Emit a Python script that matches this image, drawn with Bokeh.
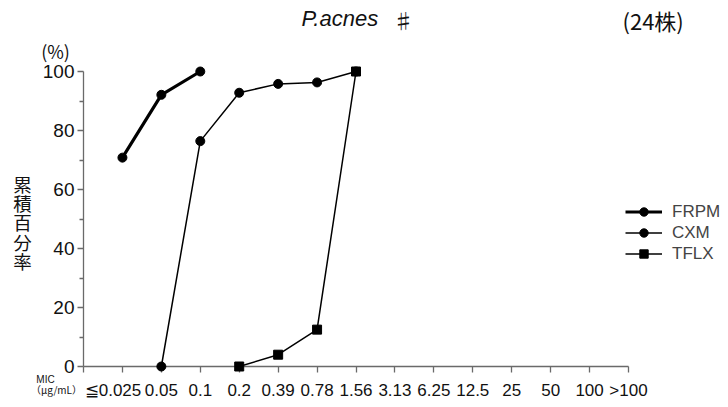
from bokeh.plotting import figure
from bokeh.models import (Range1d, FixedTicker, Label, Legend, LegendItem, ColumnDataSource)
from bokeh.embed import file_html
from bokeh.resources import INLINE

# ---------------- data ----------------
mic_labels = ["≦0.025", "0.05", "0.1", "0.2", "0.39", "0.78", "1.56", "3.13",
              "6.25", "12.5", "25", "50", "100", ">100"]

frpm_mic = ["≦0.025", "0.05", "0.1"]
frpm_pct = [70.8, 92.1, 100.0]

cxm_mic = ["0.05", "0.1", "0.2", "0.39", "0.78", "1.56"]
cxm_pct = [0.0, 76.4, 92.8, 95.8, 96.3, 100.0]

tflx_mic = ["0.2", "0.39", "0.78", "1.56"]
tflx_pct = [0.0, 4.0, 12.5, 100.0]

y_major = [0, 20, 40, 60, 80, 100]
y_minor = [10, 30, 50, 70, 90]

title_species = "P.acnes"
title_mark = "♯"
title_count = "(24株)"
y_title = "累積百分率"
legend_names = ["FRPM", "CXM", "TFLX"]

# ---------------- layout geometry (pixels) ----------------
W, H = 728, 407
AX_L, AX_R = 83, 628      # x pixels of category 0 and last category
AX_T, AX_B = 71, 366      # y pixels of 100 % and 0 %
ncat = len(mic_labels)
ppx = (AX_R - AX_L) / ncat
ppy = (AX_B - AX_T) / 100.0
x0 = -AX_L / ppx
x1 = ncat + (W - AX_R) / ppx
y1 = 100 + AX_T / ppy
y0 = -(H - AX_B) / ppy

pos = {lab: i + 1 for i, lab in enumerate(mic_labels)}
p = figure(width=W, height=H, output_backend="svg", toolbar_location=None,
           x_range=Range1d(x0, x1), y_range=Range1d(y0, y1),
           min_border=0, min_border_left=0, min_border_right=0,
           min_border_top=0, min_border_bottom=0, outline_line_color=None)
p.grid.visible = False
p.background_fill_color = "white"
p.border_fill_color = "white"

font = "Liberation Sans"
cjk = "Noto Sans CJK JP"
axis_col = "#6a6a6a"

# x axis
xa = p.xaxis[0]
xa.fixed_location = 0
xa.bounds = (0, ncat)
xa.ticker = FixedTicker(ticks=list(range(0, ncat + 1)), minor_ticks=[])
overrides = {0: ""}
for lab, x in pos.items():
    overrides[x] = lab
overrides[1] = mic_labels[0] + "\u00a0\u00a0\u00a0\u00a0"
xa.major_label_overrides = overrides
xa.major_label_text_font = font
xa.major_label_text_font_size = "17px"
xa.major_label_text_color = "#111111"
xa.major_label_standoff = 8
xa.major_tick_out = 6
xa.major_tick_in = 0
xa.axis_line_color = axis_col
xa.major_tick_line_color = axis_col
xa.axis_line_width = 1.3
xa.major_tick_line_width = 1.3

# y axis
ya = p.yaxis[0]
ya.fixed_location = 0
ya.bounds = (0, 100)
ya.ticker = FixedTicker(ticks=y_major, minor_ticks=y_minor)
ya.major_label_text_font = font
ya.major_label_text_font_size = "19px"
ya.major_label_text_color = "#111111"
ya.major_label_standoff = 3
ya.major_tick_out = 6
ya.major_tick_in = 0
ya.minor_tick_out = 4
ya.minor_tick_in = 0
ya.axis_line_color = axis_col
ya.major_tick_line_color = axis_col
ya.minor_tick_line_color = axis_col
ya.axis_line_width = 1.3
ya.major_tick_line_width = 1.3
ya.minor_tick_line_width = 1.3

# ---------------- series ----------------
def series(mics, pcts, lw, marker):
    src = ColumnDataSource(dict(x=[pos[m] for m in mics], y=pcts))
    ln = p.line("x", "y", source=src, line_color="black", line_width=lw,
                level="overlay")
    sc = p.scatter("x", "y", source=src, marker=marker, size=9,
                   fill_color="black", line_color="black", level="overlay")
    return [ln, sc]

r_frpm = series(frpm_mic, frpm_pct, 3.2, "circle")
r_cxm = series(cxm_mic, cxm_pct, 1.5, "circle")
r_tflx = series(tflx_mic, tflx_pct, 1.5, "square")

legend = Legend(items=[LegendItem(label=legend_names[0], renderers=r_frpm),
                       LegendItem(label=legend_names[1], renderers=r_cxm),
                       LegendItem(label=legend_names[2], renderers=r_tflx)],
                location=(625, H - 264), padding=0, spacing=0, margin=0,
                glyph_width=37, glyph_height=21, label_height=21,
                label_standoff=10, label_text_font=font,
                label_text_font_size="17px", border_line_color=None,
                background_fill_alpha=0)
p.add_layout(legend)

# ---------------- texts ----------------
def lab(text, cx, cy, size, fnt=font, style="normal", align="center", base="middle"):
    p.add_layout(Label(x=cx, y=H - cy, x_units="screen", y_units="screen",
                       text=text, text_font=fnt, text_font_size=size,
                       text_font_style=style, text_align=align, text_baseline=base,
                       text_color="#111111"))

lab(title_species, 301, 18, "22px", style="italic", align="left")
lab(title_mark, 403, 19, "21px", fnt=cjk)
lab(title_count, 622, 19, "22px", fnt=cjk, align="left")
lab("(%)", 55, 50, "18px", fnt=cjk)
for i, ch in enumerate(y_title):
    lab(ch, 22, 183 + i * 19.4, "18.5px", fnt=cjk)
lab("MIC", 45, 379, "10px")
lab("（μg/mL）", 56, 389, "10px", fnt=cjk)

open("out.html", "w").write(file_html(p, INLINE))
